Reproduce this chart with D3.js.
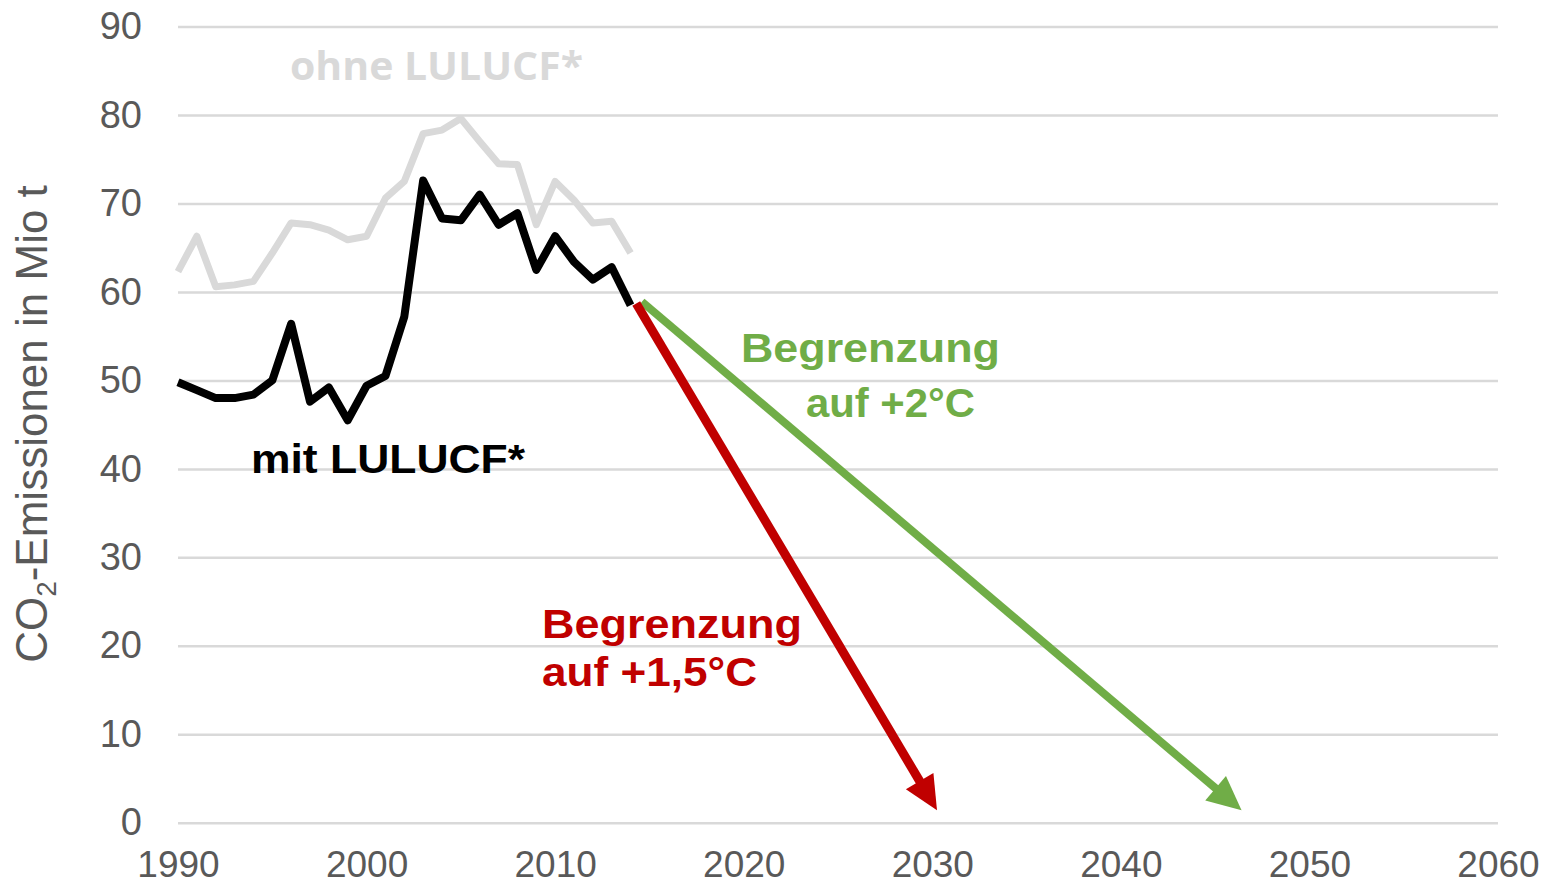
<!DOCTYPE html>
<html>
<head>
<meta charset="utf-8">
<script src="https://cdn.jsdelivr.net/npm/d3@7"></script>
<style>
  body { margin: 0; background: #fff; }
  svg { display: block; }
</style>
</head>
<body>
<div id="chart"></div>
<script>
// years of the measured series
const years = d3.range(1990, 2015);
// CO2 emissions with LULUCF (Mio t)
const mitLulucf = [49.8, 48.9, 48.0, 48.0, 48.4, 50.0, 56.4, 47.6, 49.2, 45.5, 49.4, 50.5, 57.2, 72.6,
  68.3, 68.1, 71.0, 67.6, 68.9, 62.5, 66.3, 63.4, 61.4, 62.8, 58.5];
// CO2 emissions without LULUCF (Mio t)
const ohneLulucf = [62.3, 66.3, 60.6, 60.8, 61.2, 64.4, 67.8, 67.6, 67.0, 65.9, 66.3, 70.6, 72.5, 77.9,
  78.3, 79.6, 77.0, 74.5, 74.4, 67.6, 72.5, 70.4, 67.8, 68.0, 64.4];
// reduction paths: [start, end] as year / value
const path15Years = [2014.3, 2030.25];
const path15Values = [58.7, 1.4];
const path2Years = [2014.6, 2046.4];
const path2Values = [58.9, 1.4];
// axis ticks
const yTicks = [0, 10, 20, 30, 40, 50, 60, 70, 80, 90];
const xTicks = [1990, 2000, 2010, 2020, 2030, 2040, 2050, 2060];

const width = 1555, height = 886;
const margin = { top: 26.6, right: 57, bottom: 63.3, left: 178 };
const innerW = width - margin.left - margin.right;
const innerH = height - margin.top - margin.bottom;

const svg = d3.select("#chart").append("svg")
  .attr("width", width)
  .attr("height", height);

const g = svg.append("g")
  .attr("transform", "translate(" + margin.left + "," + margin.top + ")");

const x = d3.scaleLinear().domain([1990, 2060]).range([0, innerW]);
const y = d3.scaleLinear().domain([0, 90]).range([innerH, 0]);

const font = "'Liberation Sans', Arial, sans-serif";

// y axis with grid lines
const yAxis = g.append("g")
  .call(d3.axisLeft(y).tickValues(yTicks).tickSize(-innerW).tickPadding(36));
yAxis.select(".domain").remove();
yAxis.selectAll(".tick line").attr("stroke", "#d9d9d9").attr("stroke-width", 2.5);
yAxis.selectAll(".tick text")
  .style("font-family", font).style("font-size", "38px").attr("fill", "#595959");

// x axis, labels only
const xAxis = g.append("g")
  .attr("transform", "translate(0," + innerH + ")")
  .call(d3.axisBottom(x).tickValues(xTicks).tickFormat(d3.format("d")).tickSize(0).tickPadding(28));
xAxis.select(".domain").remove();
xAxis.selectAll(".tick text")
  .style("font-family", font).style("font-size", "37px").attr("fill", "#595959");

const line = d3.line()
  .x((d, i) => x(years[i]))
  .y(d => y(d));

g.append("path")
  .datum(ohneLulucf)
  .attr("fill", "none")
  .attr("stroke", "#d9d9d9")
  .attr("stroke-width", 7)
  .attr("stroke-linejoin", "round")
  .attr("d", line);

g.append("path")
  .datum(mitLulucf)
  .attr("fill", "none")
  .attr("stroke", "#000")
  .attr("stroke-width", 8)
  .attr("stroke-linejoin", "round")
  .attr("d", line);

// arrows: shaft ends at the head base, head drawn as a triangle
function arrow(ys, vs, color, sw) {
  const x0 = x(ys[0]), y0 = y(vs[0]);
  const x1 = x(ys[1]), y1 = y(vs[1]);
  const len = Math.hypot(x1 - x0, y1 - y0);
  const ux = (x1 - x0) / len, uy = (y1 - y0) / len;
  const headL = 34, headW = 16;
  const bx = x1 - ux * headL, by = y1 - uy * headL;
  g.append("line")
    .attr("x1", x0).attr("y1", y0)
    .attr("x2", x1 - ux * headL * 0.7).attr("y2", y1 - uy * headL * 0.7)
    .attr("stroke", color)
    .attr("stroke-width", sw);
  g.append("path")
    .attr("fill", color)
    .attr("d", "M" + x1 + "," + y1 +
      "L" + (bx - uy * headW) + "," + (by + ux * headW) +
      "L" + (bx + uy * headW) + "," + (by - ux * headW) + "Z");
}
arrow(path2Years, path2Values, "#70ad47", 8);
arrow(path15Years, path15Values, "#c00000", 9);

// annotations
svg.append("text")
  .attr("x", 290).attr("y", 80)
  .attr("fill", "#d9d9d9")
  .style("font-family", "'Open Sans', sans-serif").style("font-weight", "bold").style("font-size", "40px")
  .attr("textLength", 293).attr("lengthAdjust", "spacingAndGlyphs")
  .text("ohne LULUCF*");

svg.append("text")
  .attr("x", 251).attr("y", 473)
  .attr("fill", "#000")
  .style("font-family", font).style("font-weight", "bold").style("font-size", "40px")
  .attr("textLength", 274).attr("lengthAdjust", "spacingAndGlyphs")
  .text("mit LULUCF*");

const green = svg.append("text")
  .attr("fill", "#70ad47")
  .style("font-family", font).style("font-weight", "bold").style("font-size", "40px");
green.append("tspan").attr("x", 741).attr("y", 362)
  .attr("textLength", 259).attr("lengthAdjust", "spacingAndGlyphs").text("Begrenzung");
green.append("tspan").attr("x", 806).attr("y", 417)
  .attr("textLength", 169).attr("lengthAdjust", "spacingAndGlyphs").text("auf +2°C");

const red = svg.append("text")
  .attr("fill", "#c00000")
  .style("font-family", font).style("font-weight", "bold").style("font-size", "40px");
red.append("tspan").attr("x", 542).attr("y", 638)
  .attr("textLength", 260).attr("lengthAdjust", "spacingAndGlyphs").text("Begrenzung");
red.append("tspan").attr("x", 542).attr("y", 686)
  .attr("textLength", 215).attr("lengthAdjust", "spacingAndGlyphs").text("auf +1,5°C");

// y axis title
const title = svg.append("text")
  .attr("transform", "translate(47,424) rotate(-90)")
  .attr("text-anchor", "middle")
  .attr("fill", "#595959")
  .style("font-family", font).style("font-size", "44px");
title.append("tspan").text("CO");
title.append("tspan").attr("dy", 9).style("font-size", "28px").text("2");
title.append("tspan").attr("dy", -9).text("-Emissionen in Mio t");
</script>
</body>
</html>
